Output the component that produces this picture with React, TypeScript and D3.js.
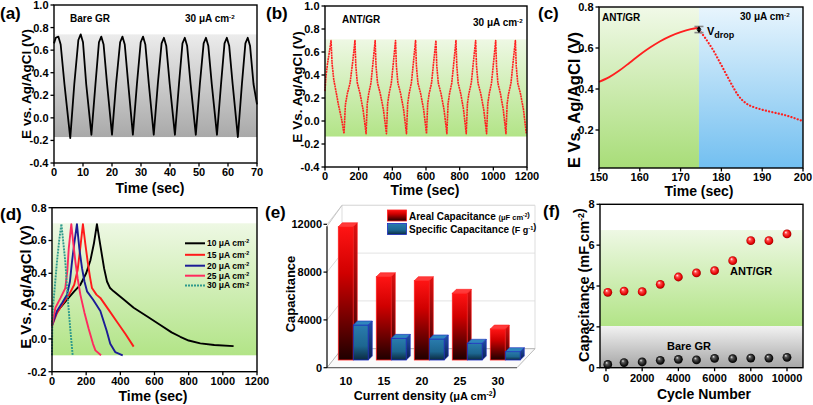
import React from 'react';
import * as d3 from 'd3';

const FONT = '"Liberation Sans", Arial, Helvetica, sans-serif';

// ---------------- (a) Bare GR ----------------
const aSeries: [number, number][] = [
  [0, 0.66], [0.6, 0.71], [1.5, 0.72], [2.3, 0.65], [3.6, 0.3], [5.6, -0.18],
  [7.0, 0.3], [8.4, 0.69], [9.2, 0.74], [10.0, 0.67], [11.1, 0.3], [12.9, -0.15],
  [14.3, 0.3], [15.5, 0.67], [16.3, 0.72], [17.1, 0.65], [18.3, 0.3], [20.0, -0.15],
  [21.4, 0.3], [22.8, 0.67], [23.6, 0.72], [24.4, 0.65], [25.6, 0.3], [27.2, -0.15],
  [28.6, 0.3], [29.9, 0.67], [30.7, 0.72], [31.5, 0.65], [32.7, 0.3], [34.4, -0.15],
  [35.8, 0.3], [37.1, 0.66], [37.9, 0.71], [38.7, 0.64], [39.9, 0.3], [41.7, -0.15],
  [43.1, 0.3], [44.3, 0.66], [45.1, 0.71], [45.9, 0.64], [47.1, 0.3], [48.9, -0.15],
  [50.3, 0.3], [51.6, 0.66], [52.4, 0.71], [53.2, 0.64], [54.4, 0.3], [56.2, -0.15],
  [57.6, 0.3], [58.8, 0.66], [59.6, 0.71], [60.4, 0.64], [61.6, 0.3], [63.4, -0.17],
  [64.8, 0.3], [66.0, 0.66], [66.8, 0.71], [67.6, 0.64], [68.8, 0.3], [70.0, 0.12],
];
const aTicksX = [0, 10, 20, 30, 40, 50, 60, 70];
const vTicks = [-0.4, -0.2, 0, 0.2, 0.4, 0.6, 0.8, 1.0];
const aBand = [-0.17, 0.74];

// ---------------- (b) ANT/GR ----------------
const bSeries: [number, number][] = [
  [0, 0.26], [5, 0.38], [15, 0.5], [28, 0.62], [36, 0.7],
  [42, 0.5], [52, 0.36], [65, 0.26], [80, 0.14], [98, 0.02], [113, -0.11],
  [121, 0.14], [133, 0.24], [149, 0.33], [165, 0.52], [178, 0.7],
  [183, 0.48], [192, 0.33], [208, 0.24], [226, 0.1], [244, -0.11],
  [251, 0.15], [260, 0.24], [273, 0.33], [286, 0.52], [298, 0.7],
  [303, 0.48], [312, 0.33], [328, 0.24], [347, 0.1], [365, -0.11],
  [372, 0.15], [381, 0.24], [394, 0.33], [407, 0.52], [419, 0.7],
  [424, 0.48], [433, 0.33], [449, 0.24], [467, 0.1], [484, -0.11],
  [491, 0.15], [500, 0.24], [513, 0.33], [526, 0.52], [538, 0.7],
  [543, 0.48], [552, 0.33], [568, 0.24], [586, 0.1], [603, -0.11],
  [610, 0.15], [619, 0.24], [633, 0.33], [646, 0.52], [659, 0.7],
  [664, 0.48], [673, 0.33], [689, 0.24], [707, 0.1], [724, -0.11],
  [731, 0.15], [740, 0.24], [753, 0.33], [766, 0.52], [778, 0.7],
  [783, 0.48], [791, 0.33], [806, 0.24], [823, 0.1], [839, -0.11],
  [846, 0.15], [855, 0.24], [869, 0.33], [882, 0.52], [895, 0.7],
  [900, 0.48], [909, 0.33], [925, 0.24], [943, 0.1], [960, -0.11],
  [967, 0.15], [976, 0.24], [989, 0.33], [1002, 0.52], [1014, 0.7],
  [1019, 0.48], [1027, 0.33], [1042, 0.24], [1059, 0.1], [1075, -0.11],
  [1082, 0.15], [1091, 0.24], [1105, 0.33], [1118, 0.52], [1131, 0.7],
  [1136, 0.48], [1145, 0.33], [1161, 0.24], [1179, 0.1], [1196, -0.11],
];
const bTicksX = [0, 200, 400, 600, 800, 1000, 1200];
const bBand = [-0.135, 0.71];

// ---------------- (c) zoom of one cycle ----------------
const cCharge: [number, number][] = [
  [150, 0.435], [152.5, 0.458], [155, 0.49], [157.5, 0.528], [160, 0.567], [162.5, 0.602],
  [165, 0.633], [167.5, 0.658], [170, 0.677], [172.5, 0.692], [174.5, 0.7],
];
const cDischarge: [number, number][] = [
  [175, 0.676], [176, 0.65], [177, 0.62], [178, 0.589], [179, 0.553], [180, 0.516],
  [181, 0.478], [182, 0.441], [183, 0.405], [184, 0.372], [185, 0.348], [186, 0.331],
  [187, 0.319], [188, 0.311], [190, 0.299], [192, 0.289], [194, 0.28], [196, 0.27],
  [198, 0.257], [200, 0.243],
];
const cSplit = 174.5;
const cTicksX = [150, 160, 170, 180, 190, 200];
const cTicksY = [0.2, 0.4, 0.6, 0.8];

// ---------------- (d) different current densities ----------------
const dCurrents = [10, 15, 20, 25, 30];
const dColors = ['#000000', '#ff1a1a', '#1c1c96', '#ff2a5e', '#2f9a8c'];
const d10: [number, number][] = [
  [0, 0.1], [10, 0.13], [40, 0.18], [88, 0.24], [130, 0.29], [166, 0.33], [200, 0.4],
  [225, 0.48], [245, 0.58], [263, 0.7], [283, 0.57], [305, 0.43], [322, 0.35], [340, 0.31],
  [361, 0.29], [420, 0.24], [478, 0.19], [560, 0.135], [634, 0.085], [700, 0.04],
  [751, 0.013], [800, -0.01], [868, -0.027], [950, -0.037], [1063, -0.044],
];
const d15: [number, number][] = [
  [0, 0.08], [30, 0.16], [60, 0.21], [100, 0.27], [130, 0.33], [150, 0.42], [165, 0.55],
  [181, 0.7], [195, 0.58], [209, 0.47], [222, 0.38], [234, 0.31], [260, 0.27], [283, 0.25],
  [330, 0.18], [380, 0.105], [430, 0.03], [478, -0.047],
];
const d20: [number, number][] = [
  [0, 0.08], [29, 0.17], [60, 0.22], [88, 0.27], [105, 0.35], [117, 0.47], [130, 0.58],
  [146, 0.7], [160, 0.55], [176, 0.43], [190, 0.35], [205, 0.29], [240, 0.24], [283, 0.17],
  [320, 0.05], [341, -0.03], [370, -0.08], [414, -0.1],
];
const d25: [number, number][] = [
  [0, 0.08], [20, 0.19], [50, 0.25], [78, 0.31], [90, 0.42], [98, 0.55], [113, 0.7],
  [125, 0.58], [137, 0.47], [150, 0.37], [166, 0.27], [190, 0.16], [215, 0.06],
  [240, -0.03], [254, -0.07], [287, -0.1],
];
const d30: [number, number][] = [
  [0, -0.1], [2, 0.1], [4, 0.17], [15, 0.3], [29, 0.47], [42, 0.6], [55, 0.7],
  [65, 0.6], [78, 0.47], [92, 0.25], [107, 0.06], [121, -0.1],
];
const dSeries = [d10, d15, d20, d25, d30];
const dTicksX = [0, 200, 400, 600, 800, 1000, 1200];
const dTicksY = [-0.2, 0, 0.2, 0.4, 0.6, 0.8];
const dBand = [-0.1, 0.705];

// ---------------- (e) capacitance bars ----------------
const eCats = ['10', '15', '20', '25', '30'];
const eAreal = [11150, 6970, 6640, 5580, 2590];
const eSpecific = [2930, 1810, 1760, 1400, 700];
const eTicks = [0, 4000, 8000, 12000];

// ---------------- (f) cycling ----------------
const fCycles = [100, 1000, 2000, 3000, 4000, 5000, 6000, 7000, 8000, 9000, 10000];
const fAnt = [3.69, 3.75, 3.72, 4.08, 4.44, 4.64, 4.75, 5.24, 6.22, 6.22, 6.55];
const fBare = [0.16, 0.25, 0.28, 0.36, 0.41, 0.38, 0.46, 0.44, 0.47, 0.47, 0.51];
const fTicksX = [0, 2000, 4000, 6000, 8000, 10000];
const fTicksY = [0, 2, 4, 6, 8];

type Box = { x0: number; x1: number; y0: number; y1: number };

function Axes(props: {
  box: Box; xs: any; ys: any; xticks: number[]; yticks: number[];
  xfmt: (v: number) => string; yfmt: (v: number) => string; xdy?: number;
}) {
  const { box, xs, ys, xticks, yticks, xfmt, yfmt } = props;
  const xdy = props.xdy ?? 13;
  return (
    <g>
      <rect x={box.x0} y={box.y0} width={box.x1 - box.x0} height={box.y1 - box.y0}
        fill="none" stroke="#000" strokeWidth={1.4} />
      {xticks.map((t) => (
        <g key={'x' + t}>
          <line x1={xs(t)} x2={xs(t)} y1={box.y1} y2={box.y1 + 3.5} stroke="#000" strokeWidth={1.3} />
          <text x={xs(t)} y={box.y1 + xdy} textAnchor="middle" fontSize={11} fontWeight="bold">{xfmt(t)}</text>
        </g>
      ))}
      {yticks.map((t) => (
        <g key={'y' + t}>
          <line x1={box.x0 - 3.5} x2={box.x0} y1={ys(t)} y2={ys(t)} stroke="#000" strokeWidth={1.3} />
          <text x={box.x0 - 5.5} y={ys(t)} dy="0.36em" textAnchor="end" fontSize={11} fontWeight="bold">{yfmt(t)}</text>
        </g>
      ))}
    </g>
  );
}

const f1 = (v: number) => v.toFixed(1);
const f0 = (v: number) => String(v);

function Sup({ children }: { children: string }) {
  return <tspan fontSize="0.62em" dy="-0.55em">{children}</tspan>;
}

function YTitle({ x, y, size, children }: { x: number; y: number; size: number; children: any }) {
  return (
    <text transform={`translate(${x},${y}) rotate(-90)`} textAnchor="middle" fontSize={size} fontWeight="bold">
      {children}
    </text>
  );
}

function PanelA() {
  const box = { x0: 54, x1: 257, y0: 5, y1: 163 };
  const xs = d3.scaleLinear().domain([0, 70]).range([box.x0, box.x1]);
  const ys = d3.scaleLinear().domain([-0.4, 1.0]).range([box.y1, box.y0]);
  const line = d3.line<[number, number]>().x((d) => xs(d[0])).y((d) => ys(d[1]));
  return (
    <g>
      <rect x={box.x0} y={ys(aBand[1])} width={box.x1 - box.x0} height={ys(aBand[0]) - ys(aBand[1])} fill="url(#gGray)" />
      <path d={line(aSeries) || ''} fill="none" stroke="#000" strokeWidth={1.8} strokeLinejoin="round" />
      <Axes box={box} xs={xs} ys={ys} xticks={aTicksX} yticks={vTicks} xfmt={f0} yfmt={f1} />
      <text x={70} y={22} fontSize={10} fontWeight="bold">Bare GR</text>
      <text x={185} y={22} fontSize={10} fontWeight="bold">30 μA cm<Sup>-2</Sup></text>
      <YTitle x={31} y={84} size={13.5}>E vs. Ag/AgCl (V)</YTitle>
      <text x={150} y={192.5} textAnchor="middle" fontSize={14} fontWeight="bold">Time (sec)</text>
      <text x={0} y={19} fontSize={17} fontWeight="bold">(a)</text>
    </g>
  );
}

function PanelB() {
  const box = { x0: 325, x1: 527, y0: 6, y1: 167 };
  const xs = d3.scaleLinear().domain([0, 1200]).range([box.x0, box.x1]);
  const ys = d3.scaleLinear().domain([-0.4, 1.0]).range([box.y1, box.y0]);
  const line = d3.line<[number, number]>().x((d) => xs(d[0])).y((d) => ys(d[1]));
  return (
    <g>
      <rect x={box.x0} y={ys(bBand[1])} width={box.x1 - box.x0} height={ys(bBand[0]) - ys(bBand[1])} fill="url(#gGreen)" />
      <path d={line(bSeries) || ''} fill="none" stroke="#ff1f1f" strokeWidth={1.6} strokeDasharray="2 0.6" strokeLinejoin="round" />
      <Axes box={box} xs={xs} ys={ys} xticks={bTicksX} yticks={vTicks} xfmt={f0} yfmt={f1} />
      <text x={342} y={23} fontSize={10} fontWeight="bold">ANT/GR</text>
      <text x={473} y={26} fontSize={10} fontWeight="bold">30 μA cm<Sup>-2</Sup></text>
      <YTitle x={302} y={87} size={13.5}>E Vs. Ag/AgCl (V)</YTitle>
      <text x={425} y={195} textAnchor="middle" fontSize={14} fontWeight="bold">Time (sec)</text>
      <text x={266} y={19} fontSize={17} fontWeight="bold">(b)</text>
    </g>
  );
}

function PanelC() {
  const box = { x0: 599, x1: 803, y0: 7, y1: 168 };
  const xs = d3.scaleLinear().domain([150, 200]).range([box.x0, box.x1]);
  const ys = d3.scaleLinear().domain([0.0146, 0.8]).range([box.y1, box.y0]);
  const line = d3.line<[number, number]>().x((d) => xs(d[0])).y((d) => ys(d[1])).curve(d3.curveMonotoneX);
  const xm = xs(cSplit);
  const yTop = ys(0.705);
  const yBot = ys(0.675);
  return (
    <g>
      <rect x={box.x0} y={box.y0} width={xm - box.x0} height={box.y1 - box.y0} fill="url(#gGreenC)" />
      <rect x={xm} y={box.y0} width={box.x1 - xm} height={box.y1 - box.y0} fill="url(#gBlueC)" />
      <path d={line(cCharge) || ''} fill="none" stroke="#ff1f1f" strokeWidth={1.8} />
      <path d={line(cDischarge) || ''} fill="none" stroke="#ff1f1f" strokeWidth={2.2} strokeDasharray="0.1 3.2" strokeLinecap="round" />
      <line x1={xm - 4.5} x2={xm + 4.5} y1={yTop} y2={yTop} stroke="#888" strokeWidth={1.6} />
      <line x1={xm - 4.5} x2={xm + 4.5} y1={yBot} y2={yBot} stroke="#888" strokeWidth={1.6} />
      <line x1={xm} x2={xm} y1={yTop + 1} y2={yBot - 1} stroke="#000" strokeWidth={1.2} />
      <path d={`M${xm - 2.5},${yTop + 3} L${xm + 2.5},${yTop + 3} L${xm},${yTop - 0.5} Z`} fill="#000" />
      <path d={`M${xm - 2.5},${yBot - 3} L${xm + 2.5},${yBot - 3} L${xm},${yBot + 0.5} Z`} fill="#000" />
      <text x={707} y={35} fontSize={11} fontWeight="bold">V<tspan fontSize={9} dy={2.5}>drop</tspan></text>
      <Axes box={box} xs={xs} ys={ys} xticks={cTicksX} yticks={cTicksY} xfmt={f0} yfmt={f1} />
      <text x={602} y={21} fontSize={10} fontWeight="bold">ANT/GR</text>
      <text x={740} y={20} fontSize={10} fontWeight="bold">30 μA cm<Sup>-2</Sup></text>
      <YTitle x={580} y={100} size={16.5}>E Vs. Ag/AgCl (V)</YTitle>
      <text x={699} y={196} textAnchor="middle" fontSize={14} fontWeight="bold">Time (sec)</text>
      <text x={538} y={19} fontSize={17} fontWeight="bold">(c)</text>
    </g>
  );
}

function PanelD() {
  const box = { x0: 52, x1: 257, y0: 207.7, y1: 371.7 };
  const xs = d3.scaleLinear().domain([0, 1200]).range([box.x0, box.x1]);
  const ys = d3.scaleLinear().domain([-0.2, 0.8]).range([box.y1, box.y0]);
  const line = d3.line<[number, number]>().x((d) => xs(d[0])).y((d) => ys(d[1]));
  const legY = [243.3, 254.8, 265.7, 275.7, 285.5];
  return (
    <g>
      <rect x={box.x0} y={ys(dBand[1])} width={box.x1 - box.x0} height={ys(dBand[0]) - ys(dBand[1])} fill="url(#gGreen)" />
      {dSeries.map((s, i) => (
        <path key={i} d={line(s) || ''} fill="none" stroke={dColors[i]} strokeWidth={1.9}
          strokeDasharray={i === 4 ? '2 1' : undefined} strokeLinejoin="round" />
      ))}
      {dCurrents.map((c, i) => (
        <g key={c}>
          <line x1={185} x2={205} y1={legY[i]} y2={legY[i]} stroke={dColors[i]} strokeWidth={2}
            strokeDasharray={i === 4 ? '2 1' : undefined} />
          <text x={207} y={legY[i]} dy="0.35em" fontSize={8.5} fontWeight="bold">{c} μA cm<Sup>-2</Sup></text>
        </g>
      ))}
      <Axes box={box} xs={xs} ys={ys} xticks={dTicksX} yticks={dTicksY} xfmt={f0} yfmt={f1} />
      <YTitle x={31} y={287} size={15}>E Vs. Ag/AgCl (V)</YTitle>
      <text x={153} y={400.5} textAnchor="middle" fontSize={14} fontWeight="bold">Time (sec)</text>
      <text x={0} y={220} fontSize={17} fontWeight="bold">(d)</text>
    </g>
  );
}

function PanelE() {
  const fx0 = 327, fx1 = 517;
  const ys = d3.scaleLinear().domain([0, 12000]).range([367.7, 224.3]);
  const xb = d3.scaleBand<string>().domain(eCats).range([fx0, fx1]);
  const wdx = 15, wdy = -19; // wall depth
  const bdx = 7.3, bdy = -7.7; // bar row depth
  const bw = 15, cdx = 4, cdy = -4;
  const y0 = ys(0);
  const bar = (x: number, v: number, kind: 'r' | 'b', key: string) => {
    const top = ys(v) + bdy;
    const yb = y0 + bdy;
    const stroke = kind === 'r' ? '#ff2020' : '#1c2cc0';
    return (
      <g key={key}>
        <rect x={x} y={top} width={bw} height={yb - top} fill={`url(#${kind}Front)`} stroke={stroke} strokeWidth={0.8} />
        <polygon points={`${x},${top} ${x + cdx},${top + cdy} ${x + bw + cdx},${top + cdy} ${x + bw},${top}`}
          fill={kind === 'r' ? '#ff3a3a' : '#2f86bd'} stroke={stroke} strokeWidth={0.6} />
        <polygon points={`${x + bw},${top} ${x + bw + cdx},${top + cdy} ${x + bw + cdx},${yb + cdy} ${x + bw},${yb}`}
          fill={`url(#${kind}Side)`} stroke={stroke} strokeWidth={0.6} />
      </g>
    );
  };
  return (
    <g>
      <polygon points={`${fx0 + wdx},${ys(12000) + wdy} ${fx1 + wdx + 3},${ys(12000) + wdy} ${fx1 + wdx + 3},${y0 + wdy} ${fx0 + wdx},${y0 + wdy}`}
        fill="#fff" stroke="#d4d4d4" strokeWidth={0.8} />
      {eTicks.map((t) => (
        <g key={t}>
          <line x1={fx0 + wdx} x2={fx1 + wdx + 3} y1={ys(t) + wdy} y2={ys(t) + wdy} stroke="#dcdcdc" strokeWidth={0.8} />
          <line x1={fx0} x2={fx0 + wdx} y1={ys(t)} y2={ys(t) + wdy} stroke="#cfcfcf" strokeWidth={0.8} />
        </g>
      ))}
      <line x1={fx0} x2={fx0 + wdx} y1={ys(12000) + 2} y2={ys(12000) + wdy} stroke="#bbb" strokeWidth={0.8} />
      <polygon points={`${fx0},${y0} ${fx1},${y0} ${fx1 + wdx + 3},${y0 + wdy} ${fx0 + wdx},${y0 + wdy}`}
        fill="#fafafa" stroke="#aaa" strokeWidth={0.8} />
      {eCats.map((c, i) => {
        const cx = (xb(c) as number) + xb.bandwidth() / 2 + bdx;
        return (
          <g key={c}>
            {bar(cx - bw, eAreal[i], 'r', 'r' + c)}
            {bar(cx, eSpecific[i], 'b', 'b' + c)}
          </g>
        );
      })}
      <line x1={fx0} x2={fx1} y1={y0} y2={y0} stroke="#555" strokeWidth={1} />
      <line x1={fx0} x2={fx0} y1={y0} y2={ys(12000) + 2} stroke="#000" strokeWidth={1.2} />
      {eTicks.map((t) => (
        <g key={'l' + t}>
          <line x1={fx0 - 3.5} x2={fx0} y1={ys(t)} y2={ys(t)} stroke="#000" strokeWidth={1.2} />
          <text x={fx0 - 5} y={ys(t)} dy="0.36em" textAnchor="end" fontSize={11} fontWeight="bold">{t}</text>
        </g>
      ))}
      {eCats.map((c) => (
        <text key={'c' + c} x={(xb(c) as number) + xb.bandwidth() / 2} y={385} textAnchor="middle" fontSize={11.5} fontWeight="bold">{c}</text>
      ))}
      <rect x={387.5} y={210} width={19} height={11} fill="url(#rFront)" stroke="#ff2020" strokeWidth={0.8} />
      <rect x={387.5} y={223.5} width={19} height={11} fill="url(#bFront)" stroke="#1c2cc0" strokeWidth={0.8} />
      <text x={409} y={219.5} fontSize={10} fontWeight="bold">Areal Capacitance <tspan fontSize={7.5}>(μF cm<Sup>-2</Sup>)</tspan></text>
      <text x={409} y={233} fontSize={10} fontWeight="bold">Specific Capacitance <tspan fontSize={9}>(F g<Sup>-1</Sup>)</tspan></text>
      <YTitle x={295} y={294} size={13}>Capacitance</YTitle>
      <text x={425} y={400} textAnchor="middle" fontSize={12.5} fontWeight="bold">Current density <tspan fontSize={11}>(μA cm<Sup>-2</Sup>)</tspan></text>
      <text x={265} y={218} fontSize={17} fontWeight="bold">(e)</text>
    </g>
  );
}

function PanelF() {
  const box = { x0: 600, x1: 803, y0: 204.3, y1: 367.7 };
  const xs = d3.scaleLinear().domain([-330, 10884]).range([box.x0, box.x1]);
  const ys = d3.scaleLinear().domain([0, 8]).range([box.y1, box.y0]);
  return (
    <g>
      <rect x={box.x0} y={ys(6.74)} width={box.x1 - box.x0} height={ys(2.04) - ys(6.74)} fill="url(#gGreen)" />
      <rect x={box.x0} y={ys(2.04)} width={box.x1 - box.x0} height={ys(0) - ys(2.04)} fill="url(#gGrayF)" />
      {fCycles.map((c, i) => (
        <g key={c}>
          <circle cx={xs(c)} cy={ys(fAnt[i])} r={4.4} fill="url(#sphRed)" />
          <circle cx={xs(c)} cy={ys(fBare[i])} r={4.4} fill="url(#sphBlack)" />
        </g>
      ))}
      <Axes box={box} xs={xs} ys={ys} xticks={fTicksX} yticks={fTicksY} xfmt={f0} yfmt={f0} xdy={14.5} />
      <text x={730} y={275} fontSize={11} fontWeight="bold">ANT/GR</text>
      <text x={667} y={349.5} fontSize={11} fontWeight="bold">Bare GR</text>
      <YTitle x={589} y={285} size={14.5}>Capacitance (mF cm<Sup>-2</Sup>)</YTitle>
      <text x={704} y={399} textAnchor="middle" fontSize={14} fontWeight="bold">Cycle Number</text>
      <text x={543} y={217} fontSize={17} fontWeight="bold">(f)</text>
    </g>
  );
}

export default function App() {
  return (
    <svg width={813} height={405} viewBox="0 0 813 405"
      style={{ position: 'absolute', left: 0, top: 0, display: 'block', background: '#fff' }}
      fontFamily={FONT}>
      <defs>
        <linearGradient id="gGray" x1="0" y1="0" x2="0" y2="1">
          <stop offset="0" stopColor="#ececec" />
          <stop offset="1" stopColor="#a9a9a9" />
        </linearGradient>
        <linearGradient id="gGrayF" x1="0" y1="0" x2="0" y2="1">
          <stop offset="0" stopColor="#f2f2f2" />
          <stop offset="1" stopColor="#a6a6a6" />
        </linearGradient>
        <linearGradient id="gGreen" x1="0" y1="0" x2="0" y2="1">
          <stop offset="0" stopColor="#eef8e4" />
          <stop offset="1" stopColor="#b2e487" />
        </linearGradient>
        <linearGradient id="gGreenC" x1="0" y1="0" x2="0" y2="1">
          <stop offset="0" stopColor="#f1f9e8" />
          <stop offset="1" stopColor="#a8dd78" />
        </linearGradient>
        <linearGradient id="gBlueC" x1="0" y1="0" x2="0" y2="1">
          <stop offset="0" stopColor="#e8f5fd" />
          <stop offset="1" stopColor="#72bff0" />
        </linearGradient>
        <linearGradient id="rFront" x1="0" y1="0" x2="0" y2="1">
          <stop offset="0" stopColor="#ff1414" />
          <stop offset="0.35" stopColor="#d00000" />
          <stop offset="1" stopColor="#1e0000" />
        </linearGradient>
        <linearGradient id="rSide" x1="0" y1="0" x2="0" y2="1">
          <stop offset="0" stopColor="#e01010" />
          <stop offset="1" stopColor="#300000" />
        </linearGradient>
        <linearGradient id="bFront" x1="0" y1="0" x2="0" y2="1">
          <stop offset="0" stopColor="#2a7cae" />
          <stop offset="0.6" stopColor="#1d6690" />
          <stop offset="1" stopColor="#0b2a40" />
        </linearGradient>
        <linearGradient id="bSide" x1="0" y1="0" x2="0" y2="1">
          <stop offset="0" stopColor="#2050a8" />
          <stop offset="1" stopColor="#0a1e50" />
        </linearGradient>
        <radialGradient id="sphRed" cx="0.5" cy="0.5" r="0.55" fx="0.35" fy="0.3">
          <stop offset="0" stopColor="#ffffff" />
          <stop offset="0.3" stopColor="#ff4a4a" />
          <stop offset="0.75" stopColor="#e00000" />
          <stop offset="1" stopColor="#7a0000" />
        </radialGradient>
        <radialGradient id="sphBlack" cx="0.5" cy="0.5" r="0.55" fx="0.35" fy="0.3">
          <stop offset="0" stopColor="#e8e8e8" />
          <stop offset="0.3" stopColor="#555" />
          <stop offset="0.75" stopColor="#111" />
          <stop offset="1" stopColor="#000" />
        </radialGradient>
      </defs>
      <PanelA />
      <PanelB />
      <PanelC />
      <PanelD />
      <PanelE />
      <PanelF />
    </svg>
  );
}
